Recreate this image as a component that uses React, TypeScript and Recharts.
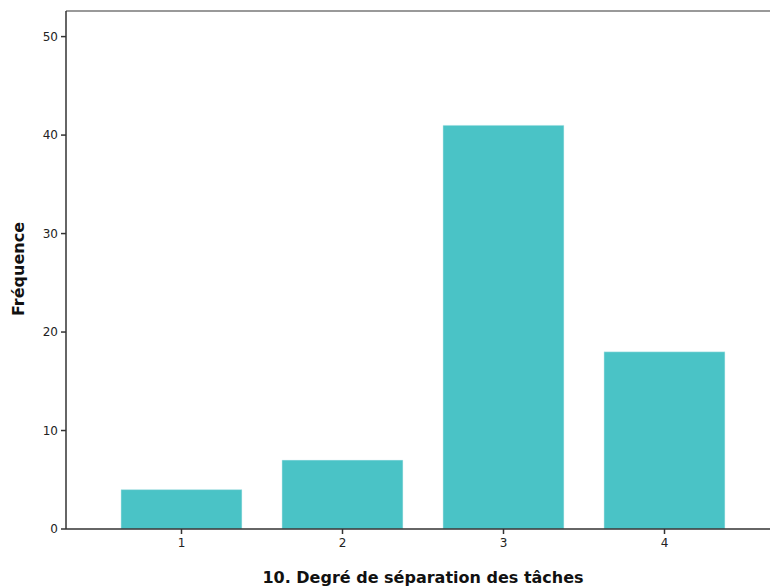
import { BarChart, Bar, XAxis, YAxis, ReferenceLine, Label } from 'recharts'

const categories = ['1', '2', '3', '4']
const frequencies = [4, 7, 41, 18]
const yTicks = [0, 10, 20, 30, 40, 50]
const yMax = 52.6

const data = categories.map((c, i) => ({ category: c, value: frequencies[i] }))

const font = '"DejaVu Sans", Verdana, sans-serif'

export default function App() {
  return (
    <div style={{ position: 'absolute', left: 0, top: 0, background: '#fff' }}>
      <BarChart
        width={770}
        height={588}
        data={data}
        margin={{ top: 11, right: 0, bottom: 0, left: 0 }}
        barCategoryGap="12.4%"
      >
        <ReferenceLine y={yMax} stroke="#999" strokeWidth={2} ifOverflow="extendDomain" />
        <XAxis
          dataKey="category"
          height={59}
          padding={{ left: 35, right: 25 }}
          stroke="#333"
          strokeWidth={1.5}
          tickSize={5}
          tickMargin={4}
          tick={{ fill: '#222', fontSize: 12, fontFamily: font }}
        >
          <Label
            value="10. Degré de séparation des tâches"
            position="insideBottom"
            offset={5}
            dx={5}
            style={{ fill: '#111', fontSize: 16, fontWeight: 'bold', fontFamily: font }}
          />
        </XAxis>
        <YAxis
          width={66}
          domain={[0, yMax]}
          ticks={yTicks}
          interval={0}
          stroke="#333"
          strokeWidth={1.5}
          tickSize={5}
          tickMargin={3}
          tick={{ fill: '#222', fontSize: 12, fontFamily: font }}
        >
          <Label
            content={() => (
              <text
                transform="translate(24,269) rotate(-90)"
                textAnchor="middle"
                style={{ fill: '#111', fontSize: 16, fontWeight: 'bold', fontFamily: font }}
              >
                Fréquence
              </text>
            )}
          />
        </YAxis>
        <Bar dataKey="value" fill="#4AC3C6" stroke="#dff3f4" strokeWidth={0.5} isAnimationActive={false} />
      </BarChart>
    </div>
  )
}
